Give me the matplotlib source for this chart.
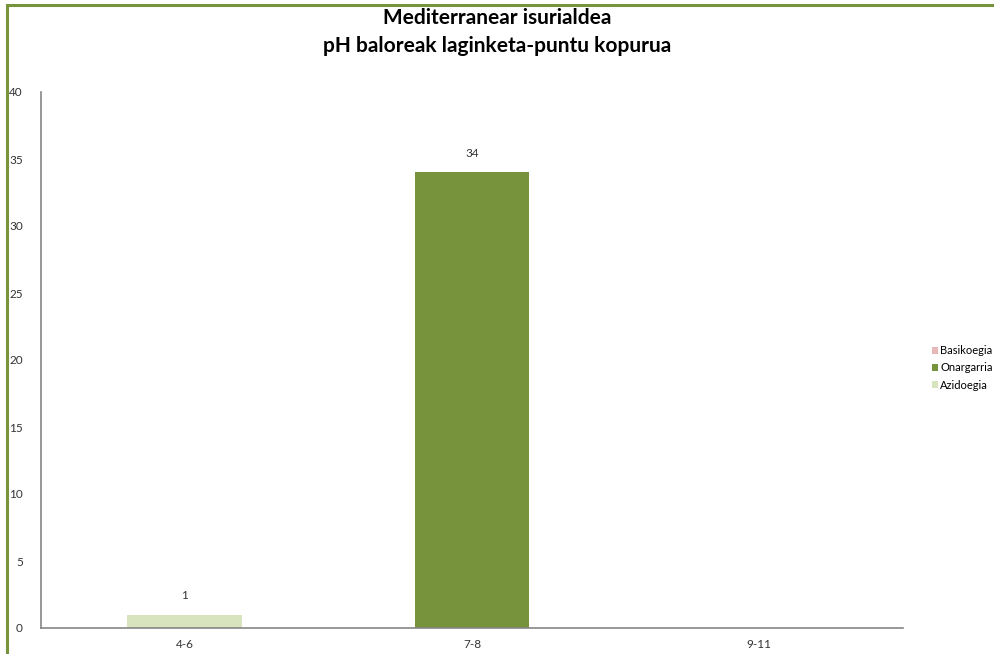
import numpy as np
import matplotlib.pyplot as plt
from matplotlib.patches import Rectangle

plt.rcParams['font.family'] = ['Lato', 'DejaVu Sans']

categories = ["4-6", "7-8", "9-11"]
azidoegia = [1, 0, 0]
onargarria = [0, 34, 0]
basikoegia = [0, 0, 0]

series_names = ["Azidoegia", "Onargarria", "Basikoegia"]
series_colors = ["#D7E4BD", "#77933C", "#E6B9B8"]

fig = plt.figure(figsize=(9.94, 6.54), dpi=100)
ax = fig.add_axes([41/994, 26/654, 862/994, 536/654])

x = np.arange(len(categories))
bottom = np.zeros(len(categories))
handles = []
for name, vals, col in zip(series_names, [azidoegia, onargarria, basikoegia], series_colors):
    vals = np.array(vals, dtype=float)
    b = ax.bar(x, vals, width=0.4, bottom=bottom, color=col, label=name)
    handles.append(b)
    for xi, v, bt in zip(x, vals, bottom):
        if v > 0:
            ax.text(xi, bt + v + 1.0, f"{int(v)}", ha="center", va="bottom",
                    fontsize=8.5, color="#333333")
    bottom += vals

ax.set_xlim(-0.5, 2.5)
ax.set_ylim(0, 40)
ax.set_yticks(np.arange(0, 41, 5))
ax.set_xticks(x)
ax.set_xticklabels(categories)
ax.tick_params(axis="both", length=0, labelsize=8.5, colors="#333333")
ax.tick_params(axis="y", pad=13)
ax.tick_params(axis="x", pad=8)
for s in ["top", "right"]:
    ax.spines[s].set_visible(False)
for s in ["left", "bottom"]:
    ax.spines[s].set_color("#868686")
    ax.spines[s].set_linewidth(1.2)

leg = fig.legend(handles[::-1], [h.get_label() for h in handles[::-1]],
                 loc="center left", bbox_to_anchor=(932/994, 1 - 368/654),
                 frameon=False, fontsize=8, handlelength=0.5, handleheight=0.6,
                 handletextpad=0.25, labelspacing=0.55, borderaxespad=0,
                 borderpad=0)

fig.text(0.5, 1 - 18/654, "Mediterranear isurialdea", ha="center", va="center",
         fontsize=15, fontweight="bold", color="#000000")
fig.text(0.5, 1 - 46/654, "pH baloreak laginketa-puntu kopurua", ha="center", va="center",
         fontsize=15, fontweight="bold", color="#000000")

fig.patches.append(Rectangle((7/994, -0.05), 1.1, 1 - 5/654 + 0.05,
                             transform=fig.transFigure, fill=False,
                             edgecolor="#77933C", linewidth=2.2))

fig.savefig("out.png", dpi=100)
